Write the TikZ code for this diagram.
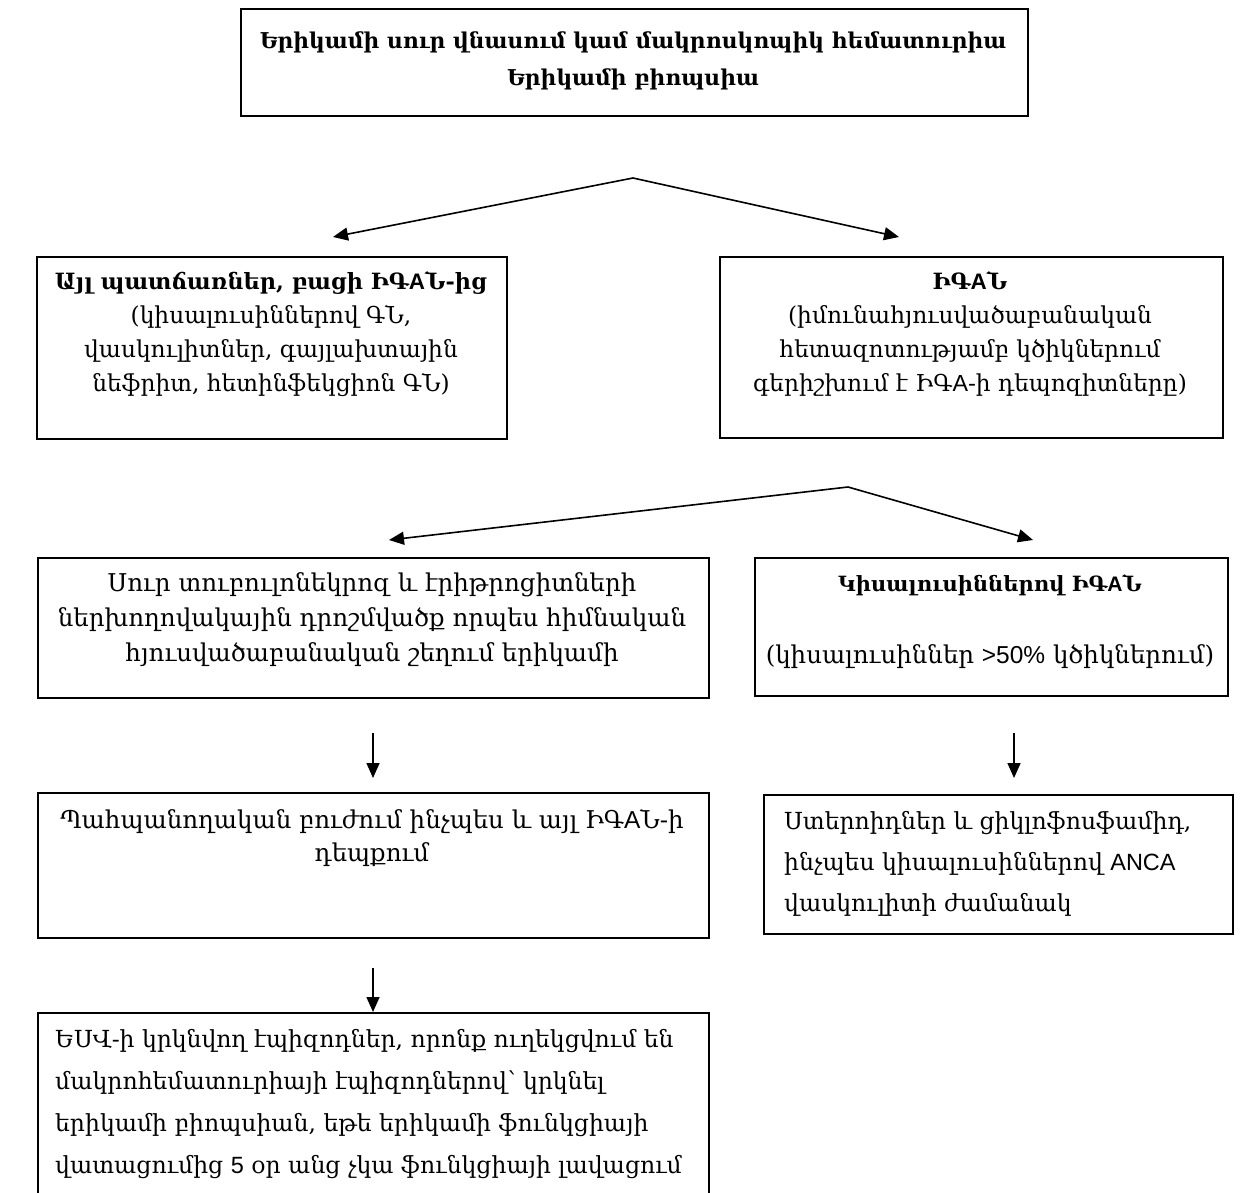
\documentclass[tikz,border=0pt]{standalone}
\usepackage{fontspec}
\setmainfont{DejaVu Serif}
\newfontfamily\lat{Liberation Sans}
\usetikzlibrary{arrows.meta}
\newcommand{\fA}{\fontsize{23.3}{34}\selectfont}
\newcommand{\fB}{\fontsize{24.5}{35}\selectfont}
\newcommand{\fC}{\fontsize{23.5}{42}\selectfont}
\begin{document}
\begin{tikzpicture}[x=1pt,y=-1pt,
  box/.style={draw, line width=1.6pt, inner sep=0pt, anchor=north west},
  ln/.style={inner sep=0pt, anchor=base},
  lnl/.style={inner sep=0pt, anchor=base west},
  arr/.style={line width=1.6pt, -{Triangle[length=15pt,width=13pt]}}]
\path[use as bounding box] (0,0) rectangle (1244,1193);
\clip (0,0) rectangle (1244,1193);
% boxes
\node[box, minimum width=787pt, minimum height=107pt] (top) at (240,8) {};
\node[box, minimum width=470pt, minimum height=182pt] (L2) at (36,256) {};
\node[box, minimum width=503pt, minimum height=181pt] (R2) at (719,256) {};
\node[box, minimum width=671pt, minimum height=140pt] (L4) at (37,557) {};
\node[box, minimum width=473pt, minimum height=138pt] (R4) at (754,557) {};
\node[box, minimum width=671pt, minimum height=145pt] (L6) at (37,792) {};
\node[box, minimum width=469pt, minimum height=139pt] (R6) at (763,794) {};
\node[box, minimum width=671pt, minimum height=230pt] (L7) at (37,1012) {};
% top
\node[ln, font=\fontsize{21.8}{35}\selectfont\bfseries] (t1) at (633,49) {Երիկամի սուր վնասում կամ մակրոսկոպիկ հեմատուրիա};
\node[ln, font=\fontsize{21.8}{35}\selectfont\bfseries] (t2) at (633,86) {Երիկամի բիոպսիա};
% L2
\node[ln, font=\fontsize{22.4}{34}\selectfont\bfseries] (l2a) at (271,289) {Այլ պատճառներ, բացի ԻԳ{\lat A}Ն-ից};
\node[ln, font=\fA] (l2b) at (271,323) {(կիսալուսիններով ԳՆ,};
\node[ln, font=\fA] (l2c) at (271,357) {վասկուլիտներ, գայլախտային};
\node[ln, font=\fA] (l2d) at (271,391) {նեֆրիտ, հետինֆեկցիոն ԳՆ)};
% R2
\node[ln, font=\fontsize{22.4}{34}\selectfont\bfseries] (r2a) at (970,289) {ԻԳ{\lat A}Ն};
\node[ln, font=\fA] (r2b) at (970,323) {(իմունահյուսվածաբանական};
\node[ln, font=\fA] (r2c) at (970,357) {հետազոտությամբ կծիկներում};
\node[ln, font=\fA] (r2d) at (970,391) {գերիշխում է ԻԳ{\lat A}-ի դեպոզիտները)};
% L4
\node[ln, font=\fB] (l4a) at (372,591) {Սուր տուբուլոնեկրոզ և էրիթրոցիտների};
\node[ln, font=\fB] (l4b) at (372,626) {ներխողովակային դրոշմվածք որպես հիմնական};
\node[ln, font=\fB] (l4c) at (372,661) {հյուսվածաբանական շեղում երիկամի};
% R4
\node[ln, font=\fontsize{21}{35}\selectfont\bfseries] (r4a) at (990,591) {Կիսալուսիններով ԻԳ{\lat A}Ն};
\node[ln, font=\fB] (r4b) at (990,663) {(կիսալուսիններ {\lat >50\%} կծիկներում)};
% L6
\node[ln, font=\fB] (l6a) at (372,828) {Պահպանողական բուժում ինչպես և այլ ԻԳ{\lat A}Ն-ի};
\node[ln, font=\fB] (l6b) at (372,861) {դեպքում};
% R6
\node[lnl, font=\fC] (r6a) at (784,829) {Ստերոիդներ և ցիկլոֆոսֆամիդ,};
\node[lnl, font=\fC] (r6b) at (784,870) {ինչպես կիսալուսիններով {\lat ANCA}};
\node[lnl, font=\fC] (r6c) at (784,911) {վասկուլիտի ժամանակ};
% L7
\node[lnl, font=\fC] (l7a) at (55,1047) {ԵՍՎ-ի կրկնվող էպիզոդներ, որոնք ուղեկցվում են};
\node[lnl, font=\fC] (l7b) at (55,1089) {մակրոհեմատուրիայի էպիզոդներով՝ կրկնել};
\node[lnl, font=\fC] (l7c) at (55,1131) {երիկամի բիոպսիան, եթե երիկամի ֆունկցիայի};
\node[lnl, font=\fC] (l7d) at (55,1173) {վատացումից {\lat 5} օր անց չկա ֆունկցիայի լավացում};
% connectors
\coordinate (a1) at (633,178);
\coordinate (a1l) at (333,237);
\coordinate (a1r) at (899,237);
\draw[arr] (a1) -- (a1l);
\draw[arr] (a1) -- (a1r);
\coordinate (a2) at (848,487);
\coordinate (a2l) at (389,540);
\coordinate (a2r) at (1033,540);
\draw[arr] (a2) -- (a2l);
\draw[arr] (a2) -- (a2r);
\coordinate (d1) at (373,733);
\coordinate (d1e) at (373,778);
\draw[arr] (d1) -- (d1e);
\coordinate (d2) at (1014,733);
\coordinate (d2e) at (1014,778);
\draw[arr] (d2) -- (d2e);
\coordinate (d3) at (373,968);
\draw[arr] (d3) -- (d3 |- L7.north);
\end{tikzpicture}
\end{document}
